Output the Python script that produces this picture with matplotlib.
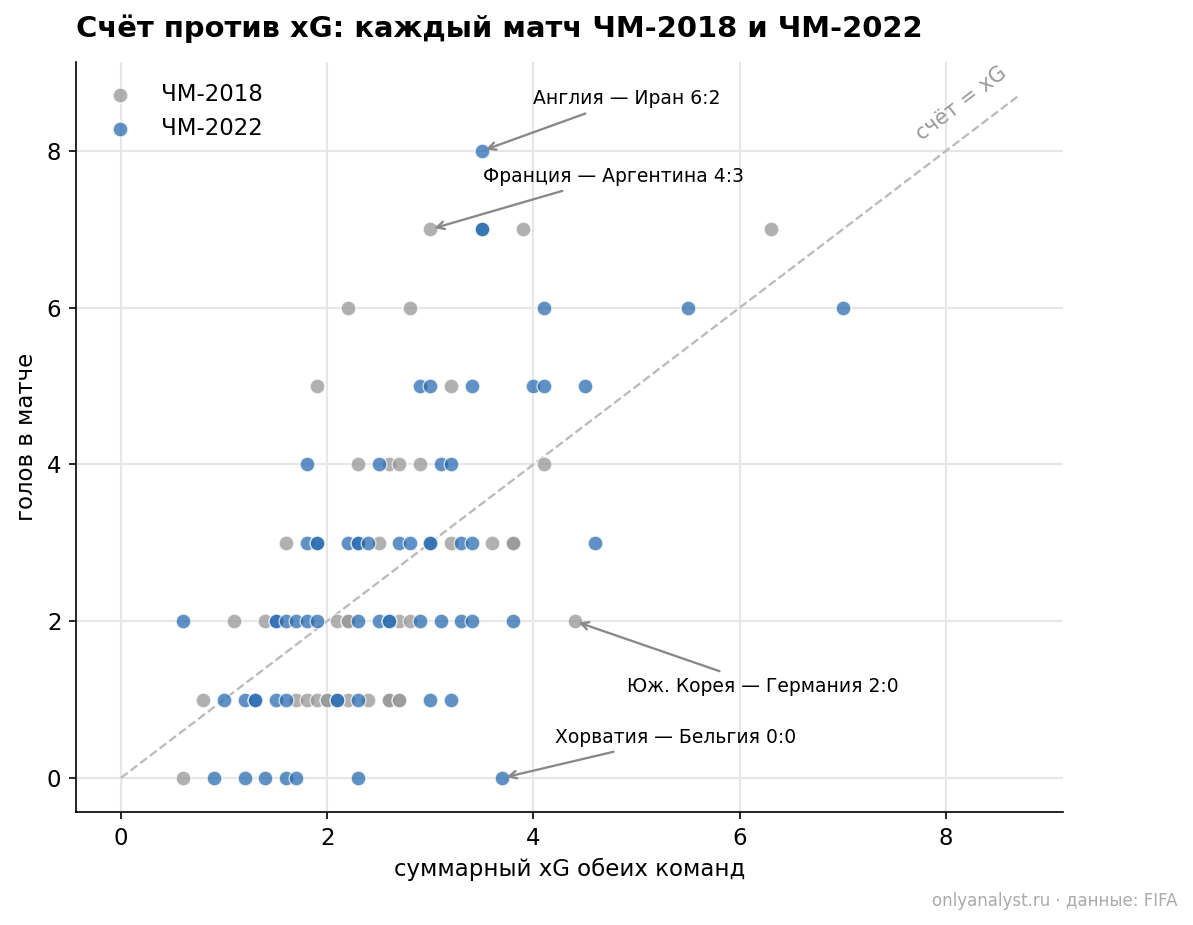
import numpy as np
import matplotlib
matplotlib.use("Agg")
import matplotlib.pyplot as plt

# ---- data: (total xG, total goals) per match ----
xg_2018 = [3.0, 3.9, 6.3,
           2.2, 2.8,
           1.9, 3.2,
           2.3, 2.6, 2.7, 2.9, 4.1,
           1.6, 2.5, 3.2, 3.6, 3.8, 3.8,
           1.1, 1.4, 2.1, 2.2, 2.2, 2.7, 2.8, 4.4,
           0.8, 1.7, 1.8, 1.9, 2.0, 2.0, 2.2, 2.4, 2.6, 2.6, 2.7, 2.7,
           0.6]
goals_2018 = [7, 7, 7,
              6, 6,
              5, 5,
              4, 4, 4, 4, 4,
              3, 3, 3, 3, 3, 3,
              2, 2, 2, 2, 2, 2, 2, 2,
              1, 1, 1, 1, 1, 1, 1, 1, 1, 1, 1, 1,
              0]

xg_2022 = [3.5,
           3.5, 3.5,
           4.1, 5.5, 7.0,
           2.9, 3.0, 3.4, 4.0, 4.1, 4.5,
           1.8, 2.5, 3.1, 3.2,
           1.8, 1.9, 1.9, 2.2, 2.3, 2.3, 2.4, 2.7, 2.8, 3.0, 3.0, 3.3, 3.4, 4.6,
           0.6, 1.5, 1.5, 1.6, 1.7, 1.8, 1.9, 2.3, 2.5, 2.6, 2.6, 2.9, 3.1, 3.3, 3.4, 3.8,
           1.0, 1.2, 1.3, 1.3, 1.5, 1.6, 2.1, 2.1, 2.3, 3.0, 3.2,
           0.9, 1.2, 1.4, 1.6, 1.7, 2.3, 3.7]
goals_2022 = [8,
              7, 7,
              6, 6, 6,
              5, 5, 5, 5, 5, 5,
              4, 4, 4, 4,
              3, 3, 3, 3, 3, 3, 3, 3, 3, 3, 3, 3, 3, 3,
              2, 2, 2, 2, 2, 2, 2, 2, 2, 2, 2, 2, 2, 2, 2, 2,
              1, 1, 1, 1, 1, 1, 1, 1, 1, 1, 1,
              0, 0, 0, 0, 0, 0, 0]

labels = ["ЧМ-2018", "ЧМ-2022"]
ann_text = ["Англия — Иран 6:2", "Франция — Аргентина 4:3",
            "Юж. Корея — Германия 2:0", "Хорватия — Бельгия 0:0"]
ann_xy = [(3.5, 8), (3.0, 7), (4.4, 2), (3.7, 0)]
ann_text_xy = [(4.0, 8.67), (3.51, 7.68), (4.91, 1.17), (4.21, 0.52)]
diag_max = 8.7

# ---- figure ----
W, H, DPI = 1193, 925, 150
fig = plt.figure(figsize=(W / DPI, H / DPI), dpi=DPI)
ax = fig.add_axes([76 / W, 1 - 812 / H, (1063 - 76) / W, (812 - 62) / H])

ax.grid(True, color="#e6e6e6", lw=1.0, zorder=0)
ax.set_axisbelow(True)

ax.plot([0, diag_max], [0, diag_max], ls="--", color="#bbbbbb", lw=1.1, zorder=1)

ax.scatter(xg_2018, goals_2018, s=50, color="#969696", alpha=0.75,
           edgecolor="white", linewidth=0.6, label=labels[0], zorder=3)
ax.scatter(xg_2022, goals_2022, s=50, color="#2b6cb0", alpha=0.75,
           edgecolor="white", linewidth=0.6, label=labels[1], zorder=4)

for t, xy, xyt in zip(ann_text, ann_xy, ann_text_xy):
    ax.annotate(t, xy=xy, xytext=xyt, fontsize=9, ha="left", va="center",
                arrowprops=dict(arrowstyle="->", color="#888888", lw=1.1),
                zorder=5)

ax.set_xticks([0, 2, 4, 6, 8])
ax.set_yticks([0, 2, 4, 6, 8])
ax.tick_params(labelsize=11)
ax.margins(0.05)
ax.spines["top"].set_visible(False)
ax.spines["right"].set_visible(False)

ax.set_xlabel("суммарный xG обеих команд", fontsize=11)
ax.set_ylabel("голов в матче", fontsize=11)
ax.set_title("Счёт против xG: каждый матч ЧМ-2018 и ЧМ-2022",
             loc="left", fontsize=13.9, fontweight="bold", pad=12)

ax.legend(loc="upper left", frameon=False, fontsize=11)

fig.canvas.draw()
p0 = ax.transData.transform((0, 0))
p1 = ax.transData.transform((8, 8))
ang = np.degrees(np.arctan2(p1[1] - p0[1], p1[0] - p0[0]))
ax.text(8.15, 8.61, "счёт = xG", rotation=ang, color="#999999", fontsize=10,
        ha="center", va="center", rotation_mode="anchor")

fig.text(1178 / W, 1 - 901 / H, "onlyanalyst.ru · данные: FIFA",
         ha="right", va="center", fontsize=8, color="#aaaaaa")

fig.savefig("out.png", dpi=DPI)
